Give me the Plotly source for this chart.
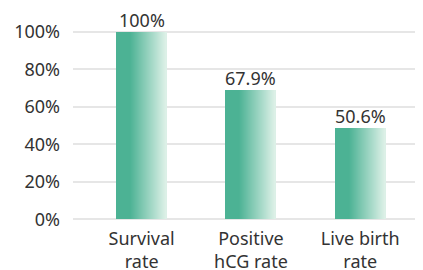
import plotly.graph_objects as go

categories = ["Survival<br>rate", "Positive<br>hCG rate", "Live birth<br>rate"]
bar_values = [100, 68.7, 48.8]
value_labels = ["100%", "67.9%", "50.6%"]
y_ticks = [0, 20, 40, 60, 80, 100]
y_tick_labels = ["0%", "20%", "40%", "60%", "80%", "100%"]

FONT = "Noto Sans"
TEXT = "#333333"
C0 = (76, 178, 148)
C1 = (222, 241, 232)
BAR_W = 0.4575
N = 50


def color_at(t):
    s = 0.0 if t < 0.28 else (t - 0.28) / 0.72
    s = min(max(s, 0.0), 1.0)
    r, g, b = (round(C0[k] + (C1[k] - C0[k]) * s) for k in range(3))
    return f"rgb({r},{g},{b})"


fig = go.Figure()
sw = BAR_W / N
for i in range(N):
    fig.add_trace(go.Bar(
        x=categories, y=bar_values,
        width=sw * 1.02, offset=-BAR_W / 2 + i * sw,
        marker=dict(color=color_at((i + 0.5) / N), line=dict(width=0)),
        showlegend=False, hoverinfo="skip",
    ))

for c, v, lab in zip(categories, bar_values, value_labels):
    fig.add_annotation(x=c, y=v, text=lab, showarrow=False,
                       xanchor="center", yanchor="bottom", yshift=-2,
                       font=dict(family=FONT, size=18, color=TEXT))

# page body has an 8px margin: figure is laid out from (8, 8)
fig.update_layout(
    width=415, height=262,
    margin=dict(l=65, r=0, t=20, b=47),
    paper_bgcolor="white", plot_bgcolor="white",
    barmode="overlay", bargap=0,
    font=dict(family=FONT, size=18, color=TEXT),
    xaxis=dict(type="category", range=[-0.628, 2.574], showgrid=False,
               showline=False, zeroline=False, ticks="", automargin=False,
               ticklabelstandoff=3,
               tickfont=dict(family=FONT, size=18, color=TEXT)),
    yaxis=dict(range=[-2, 102], tickvals=y_ticks, ticktext=y_tick_labels,
               showgrid=True, gridcolor="#e6e6e6", gridwidth=2,
               zeroline=False, showline=False, ticks="", automargin=False,
               ticklabelstandoff=12,
               tickfont=dict(family=FONT, size=18, color=TEXT)),
)

fig.write_html("out.html")
